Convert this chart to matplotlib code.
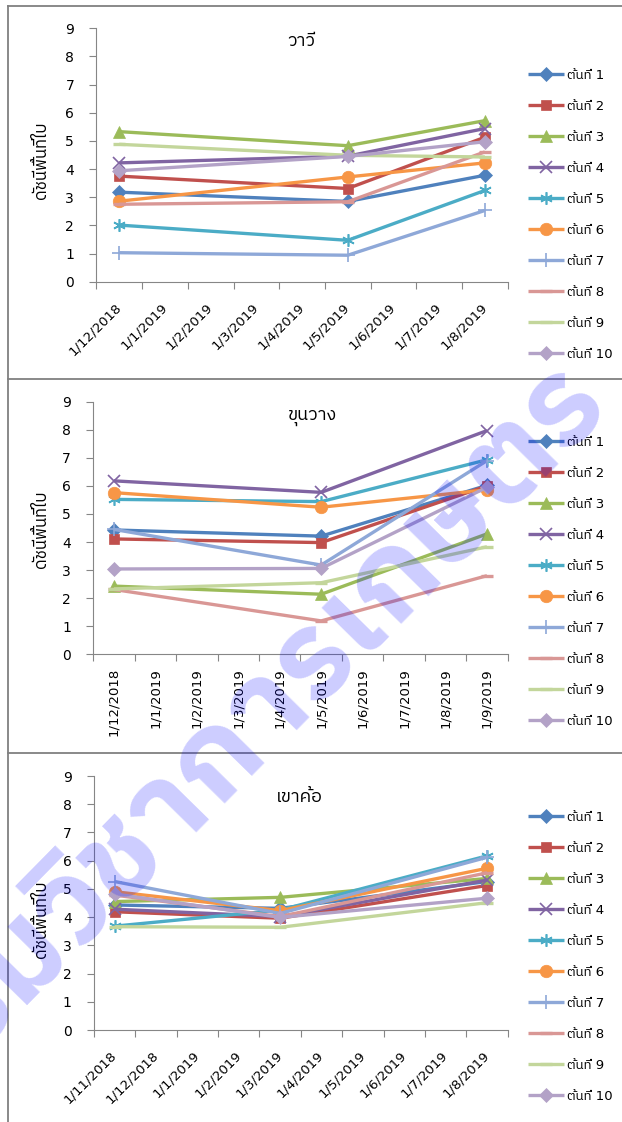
import numpy as np
import matplotlib
matplotlib.use('Agg')
import matplotlib.pyplot as plt
from matplotlib import font_manager
from matplotlib.ft2font import FT2Font
from matplotlib.lines import Line2D

# leaf area index per tree (rows = tree 1..10, cols = sampling dates)
wawee_months = ['1/12/2018', '1/1/2019', '1/2/2019', '1/3/2019', '1/4/2019',
                '1/5/2019', '1/6/2019', '1/7/2019', '1/8/2019']
wawee_dates = ['1/12/2018', '1/5/2019', '1/8/2019']
wawee_lai = [
    [3.18, 2.85, 3.78],
    [3.75, 3.31, 5.13],
    [5.33, 4.83, 5.72],
    [4.22, 4.46, 5.44],
    [2.01, 1.47, 3.24],
    [2.86, 3.72, 4.22],
    [1.03, 0.94, 2.53],
    [2.75, 2.84, 4.61],
    [4.88, 4.49, 4.43],
    [3.94, 4.45, 4.97],
]

khunwang_months = ['1/12/2018', '1/1/2019', '1/2/2019', '1/3/2019', '1/4/2019',
                   '1/5/2019', '1/6/2019', '1/7/2019', '1/8/2019', '1/9/2019']
khunwang_dates = ['1/12/2018', '1/5/2019', '1/9/2019']
khunwang_lai = [
    [4.43, 4.21, 6.02],
    [4.11, 3.98, 6.00],
    [2.43, 2.14, 4.29],
    [6.18, 5.77, 7.97],
    [5.52, 5.44, 6.93],
    [5.76, 5.24, 5.86],
    [4.45, 3.18, 6.90],
    [2.31, 1.19, 2.80],
    [2.33, 2.55, 3.83],
    [3.04, 3.06, 5.95],
]

khaokho_months = ['1/11/2018', '1/12/2018', '1/1/2019', '1/2/2019', '1/3/2019',
                  '1/4/2019', '1/5/2019', '1/6/2019', '1/7/2019', '1/8/2019']
khaokho_dates = ['1/11/2018', '1/3/2019', '1/8/2019']
khaokho_lai = [
    [4.43, 4.31, 5.26],
    [4.19, 3.96, 5.12],
    [4.55, 4.70, 5.37],
    [4.28, 4.02, 5.31],
    [3.68, 4.25, 6.17],
    [4.90, 4.23, 5.73],
    [5.26, 4.13, 6.12],
    [4.78, 4.02, 5.57],
    [3.66, 3.64, 4.51],
    [4.82, 3.99, 4.67],
]

site_names = ['วาวี', 'ขุนวาง', 'เขาค้อ']
tree_labels = ['ต้นที่ %d' % i for i in range(1, 11)]
ylabel = 'ดัชนีพื้นที่ใบ'
watermark = 'กรมวิชาการเกษตร'

colors = ['#4F81BD', '#C0504D', '#9BBB59', '#8064A2', '#4BACC6',
          '#F79646', '#8EA8D8', '#D99795', '#C3D69B', '#B3A2C7']
markers = ['D', 's', '^', 'x', (6, 2, 0), 'o', '+', '_', '_', 'D']
msizes = [7, 7.5, 8.5, 8.5, 9, 9, 9.5, 8, 8, 7]


def find_thai_font():
    found = []
    for f in font_manager.fontManager.ttflist:
        try:
            cmap = FT2Font(f.fname).get_charmap()
        except Exception:
            continue
        if ord('ว') in cmap and ord('้') in cmap:
            found.append(f)
    if not found:
        return None
    found.sort(key=lambda f: (f.weight != 400 and f.weight != 'normal',
                              'Sans' not in f.name, f.style != 'normal'))
    return found[0].name


thai = find_thai_font()
fams = ['DejaVu Sans'] + ([thai] if thai else [])
plt.rcParams['font.family'] = fams

W, H = 622, 1122
fig = plt.figure(figsize=(W / 100, H / 100), dpi=100)


def rect(left, right, top, bottom):
    return [left / W, 1 - bottom / H, (right - left) / W, (bottom - top) / H]


panels = [
    dict(months=wawee_months, dates=wawee_dates, lai=wawee_lai,
         box=(96.4, 507.7, 28.3, 281.7), rot=45, title=(301, 41),
         ylab_y=160, leg_top=76),
    dict(months=khunwang_months, dates=khunwang_dates, lai=khunwang_lai,
         box=(93.2, 507.7, 401.7, 654.3), rot=90, title=(312, 417),
         ylab_y=529, leg_top=443),
    dict(months=khaokho_months, dates=khaokho_dates, lai=khaokho_lai,
         box=(94.0, 507.7, 776.0, 1030.0), rot=45, title=(299, 797),
         ylab_y=919, leg_top=818),
]

grey = '#868686'
for p, name in zip(panels, site_names):
    ax = fig.add_axes(rect(*p['box']))
    xs = [p['months'].index(d) for d in p['dates']]
    for i, vals in enumerate(p['lai']):
        mk = markers[i]
        thin = mk in ('x', '+', (6, 2, 0))
        ax.plot(xs, vals, color=colors[i], lw=2.4, marker=mk, ms=msizes[i],
                mew=1.2 if thin else (2.4 if mk == '_' else 0.5),
                mec=colors[i], mfc=colors[i], label=tree_labels[i],
                solid_capstyle='butt')
    n = len(p['months'])
    ax.set_xlim(-0.5, n - 0.5)
    ax.set_ylim(0, 9)
    ax.set_yticks(range(10))
    ax.set_xticks(range(n))
    ax.set_xticks(np.arange(n + 1) - 0.5, minor=True)
    ax.tick_params(axis='x', which='major', length=0, labelsize=9.5,
                   pad=17 if p['rot'] == 45 else 10)
    ax.tick_params(axis='x', which='minor', length=5, width=0.8, color=grey,
                   direction='out')
    ax.tick_params(axis='y', length=5, width=0.8, color=grey, pad=11,
                   labelsize=10)
    if p['rot'] == 45:
        ax.set_xticklabels(p['months'], rotation=45, ha='right', va='center',
                           rotation_mode='anchor')
    else:
        ax.set_xticklabels(p['months'], rotation=90, ha='center', va='top')
    for s in ['top', 'right']:
        ax.spines[s].set_visible(False)
    for s in ['left', 'bottom']:
        ax.spines[s].set_color(grey)
        ax.spines[s].set_linewidth(0.8)

    fig.text(p['title'][0] / W, 1 - p['title'][1] / H, name, fontsize=13,
             ha='center', va='center')
    fig.text(41 / W, 1 - p['ylab_y'] / H, ylabel, fontsize=12,
             rotation=90, ha='center', va='center')

    ax.legend(loc='upper left', bbox_to_anchor=(528 / W, 1 - (p['leg_top'] - 7) / H),
              bbox_transform=fig.transFigure, frameon=False, fontsize=9.5,
              handlelength=2.7, handletextpad=0.25, labelspacing=1.36,
              borderpad=0, borderaxespad=0, numpoints=1)

# chart area borders
for y in [6, 379, 753]:
    fig.add_artist(Line2D([8 / W, 1.0], [1 - y / H, 1 - y / H], color='#808080',
                          lw=1.3, transform=fig.transFigure))
fig.add_artist(Line2D([8 / W, 8 / W], [0, 1 - 6 / H], color='#808080',
                      lw=1.3, transform=fig.transFigure))

fig.text(240 / W, 1 - 736 / H, watermark, fontsize=89, fontweight='bold',
         rotation=45.5, ha='center', va='center', color='#0000FF', alpha=0.2,
         zorder=10)

fig.savefig('out.png', dpi=100)
